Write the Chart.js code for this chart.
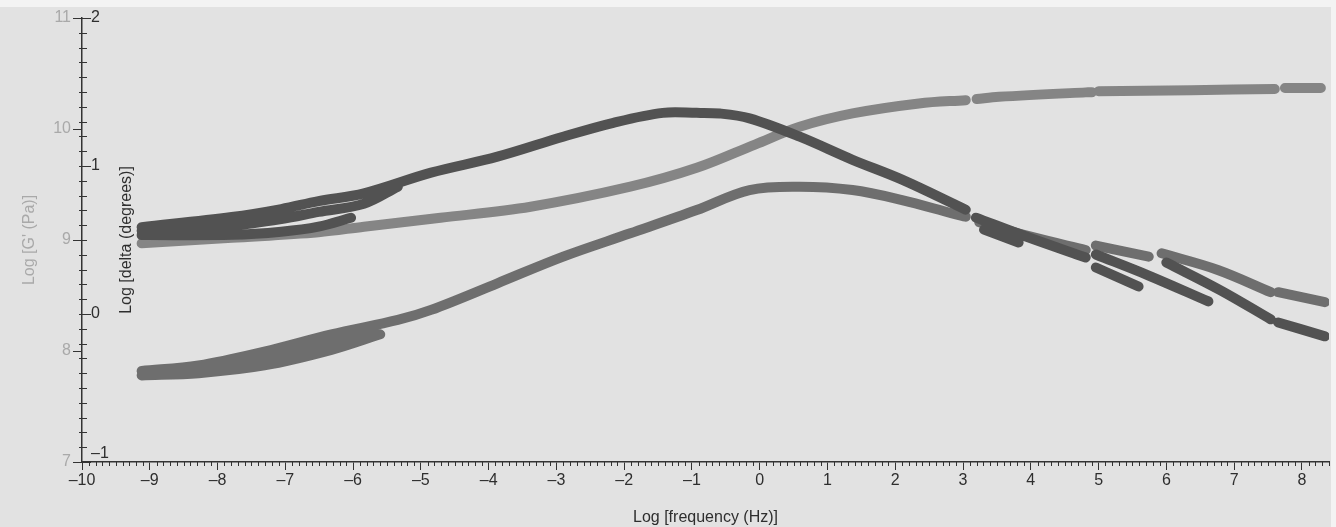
<!DOCTYPE html>
<html>
<head>
<meta charset="utf-8">
<script src="https://cdn.jsdelivr.net/npm/chart.js@4.4.1/dist/chart.umd.min.js"></script>
<style>
    html, body { margin: 0; padding: 0; background: #f3f3f3; }
    #wrap { width: 1336px; height: 527px; position: relative; }
</style>
</head>
<body>
<div id="wrap"><canvas id="rheoChart" width="1336" height="527"></canvas></div>
<script>
// x = log frequency (Hz); null marks a break between measured segments
const deltaX = [-9.12, -7.79, -7.06, -6.51, -5.84, -4.85, -3.87, -2.90, -2.16, -1.43, -0.93, -0.59, -0.15, 0.59, 1.37, 2.10, 3.04, 3.04,
    -9.12, -7.79, -7.06, -6.51, -5.84, -5.34, -5.34,
    -9.12, -7.79, -7.06, -6.51, -6.03, -6.03,
    3.19, 3.97, 4.81, 4.81,
    3.31, 3.82, 3.82,
    4.96, 5.74, 6.62, 6.62,
    4.96, 5.59, 5.59,
    6.00, 6.80, 7.54, 7.54,
    7.65, 8.34];
const deltaY = [0.587, 0.655, 0.709, 0.763, 0.815, 0.955, 1.063, 1.198, 1.292, 1.359, 1.359, 1.355, 1.322, 1.198, 1.042, 0.908, 0.705, null,
    0.562, 0.598, 0.642, 0.690, 0.745, 0.860, null,
    0.533, 0.535, 0.556, 0.590, 0.650, null,
    0.651, 0.517, 0.382, null,
    0.570, 0.483, null,
    0.402, 0.260, 0.085, null,
    0.314, 0.186, null,
    0.348, 0.160, -0.036, null,
    -0.057, -0.151];

const gppX = [-9.12, -8.28, -7.31, -6.32, -5.34, -4.85, -3.87, -2.90, -1.91, -0.93, -0.15, 0.59, 1.37, 2.10, 2.84, 3.04, 3.04,
    -8.28, -7.31, -6.32, -5.70, -5.70,
    -9.12, -8.28, -7.31, -6.32, -5.60, -5.60,
    3.24, 4.00, 4.81, 4.81,
    4.96, 5.74, 5.74,
    5.93, 6.76, 7.54, 7.54,
    7.65, 8.34];
const gppY = [7.82, 7.87, 7.995, 8.15, 8.28, 8.37, 8.61, 8.85, 9.06, 9.27, 9.45, 9.48, 9.45, 9.36, 9.24, 9.21, null,
    7.83, 7.93, 8.08, 8.19, null,
    7.78, 7.80, 7.87, 8.01, 8.15, null,
    9.16, 9.03, 8.91, null,
    8.95, 8.85, null,
    8.88, 8.73, 8.53, null,
    8.53, 8.44];

const gpX = [-9.12, -7.79, -6.51, -5.84, -4.71, -3.38, -1.91, -0.93, -0.07, 0.59, 1.37, 2.35, 3.04, 3.04,
    3.20, 3.53, 4.81, 4.90, 4.90,
    5.00, 6.37, 7.60, 7.60,
    7.75, 8.28];
const gpY = [8.97, 9.02, 9.07, 9.12, 9.20, 9.30, 9.48, 9.65, 9.86, 10.02, 10.14, 10.23, 10.26, null,
    10.27, 10.29, 10.33, 10.33, null,
    10.34, 10.35, 10.36, null,
    10.37, 10.37];

const xTicks = [-10, -9, -8, -7, -6, -5, -4, -3, -2, -1, 0, 1, 2, 3, 4, 5, 6, 7, 8];
const gpTicks = [7, 8, 9, 10, 11];
const deltaTicks = [-1, 0, 1, 2];

const FONT = 'Liberation Sans, Arial, sans-serif';
const toPoints = (xs, ys) => xs.map((x, i) => ({ x: x, y: ys[i] }));
const minus = (v) => (v < 0 ? '\u2013' + Math.abs(v) : String(v));

const deltaAxisPlugin = {
    id: 'deltaAxis',
    beforeDraw(chart) {
        const ctx = chart.ctx;
        ctx.save();
        ctx.fillStyle = '#e2e2e2';
        ctx.fillRect(0, 7, chart.chartArea.right + 2, chart.height - 7);
        ctx.restore();
    },
    afterDraw(chart) {
        const { ctx, chartArea, scales } = chart;
        const left = chartArea.left;
        const bottom = chartArea.bottom;
        ctx.save();
        ctx.strokeStyle = '#333';
        ctx.lineWidth = 1;

        // delta axis: minor ticks every 0.1, labels inside the plot
        for (let i = -10; i <= 20; i++) {
            const y = Math.round(scales.y1.getPixelForValue(i / 10)) + 0.5;
            const len = i % 10 === 0 ? 9 : 5;
            ctx.beginPath();
            ctx.moveTo(left - 3, y);
            ctx.lineTo(left + len, y);
            ctx.stroke();
        }
        ctx.fillStyle = '#2e2e2e';
        ctx.font = '16px ' + FONT;
        ctx.textAlign = 'left';
        ctx.textBaseline = 'middle';
        deltaTicks.forEach(v => {
            const y = scales.y1.getPixelForValue(v);
            ctx.fillText(minus(v), left + 9, v === -1 ? y - 8 : y);
        });

        // x axis minor ticks every 0.1
        for (let i = -100; i <= 84; i++) {
            if (i % 10 === 0) continue;
            const x = Math.round(scales.x.getPixelForValue(i / 10)) + 0.5;
            ctx.beginPath();
            ctx.moveTo(x, bottom);
            ctx.lineTo(x, bottom + 4);
            ctx.stroke();
        }

        ctx.translate(left + 45, (chartArea.top + bottom) / 2);
        ctx.rotate(-Math.PI / 2);
        ctx.textAlign = 'center';
        ctx.fillText('Log [delta (degrees)]', 0, 0);
        ctx.restore();
    }
};

const lineStyle = (color) => ({
    borderColor: color,
    backgroundColor: color,
    borderWidth: 10,
    borderCapStyle: 'round',
    borderJoinStyle: 'round',
    tension: 0.35,
    pointRadius: 0,
    fill: false,
    spanGaps: false,
});

new Chart(document.getElementById('rheoChart'), {
    type: 'line',
    data: {
        datasets: [
            { label: 'delta', data: toPoints(deltaX, deltaY), yAxisID: 'y1', ...lineStyle('#525252') },
            { label: "G''", data: toPoints(gppX, gppY), yAxisID: 'y', ...lineStyle('#6e6e6e') },
            { label: "G'", data: toPoints(gpX, gpY), yAxisID: 'y', ...lineStyle('#858585') },
        ],
    },
    options: {
        responsive: false,
        animation: false,
        layout: { padding: { top: 18, right: 7, left: 0, bottom: 0 } },
        plugins: { legend: { display: false }, tooltip: { enabled: false } },
        scales: {
            x: {
                type: 'linear',
                min: -10,
                max: 8.4,
                afterBuildTicks: (s) => { s.ticks = xTicks.map(v => ({ value: v })); },
                afterFit: (s) => { s.height = 65; },
                border: { color: '#333', width: 1.5 },
                grid: { drawOnChartArea: false, tickLength: 8, color: '#333' },
                ticks: {
                    color: '#2e2e2e',
                    font: { family: FONT, size: 16 },
                    padding: 1,
                    maxRotation: 0,
                    callback: (v) => minus(v),
                },
                title: {
                    display: true,
                    text: 'Log [frequency (Hz)]',
                    color: '#2e2e2e',
                    font: { family: FONT, size: 16 },
                    padding: { top: 2, bottom: 0 },
                },
            },
            y: {
                position: 'left',
                min: 7,
                max: 11,
                afterBuildTicks: (s) => { s.ticks = gpTicks.map(v => ({ value: v })); },
                afterFit: (s) => { s.width = 82; },
                border: { color: '#333', width: 1.5 },
                grid: { drawOnChartArea: false, tickLength: 9, color: '#333' },
                ticks: {
                    color: '#a9a9a9',
                    font: { family: FONT, size: 16 },
                    padding: 2,
                },
                title: {
                    display: true,
                    text: "Log [G' (Pa)]",
                    color: '#a9a9a9',
                    font: { family: FONT, size: 16 },
                    padding: { top: 20, bottom: 0 },
                },
            },
            y1: {
                position: 'left',
                min: -1,
                max: 2,
                display: false,
            },
        },
    },
    plugins: [deltaAxisPlugin],
});
</script>
</body>
</html>
